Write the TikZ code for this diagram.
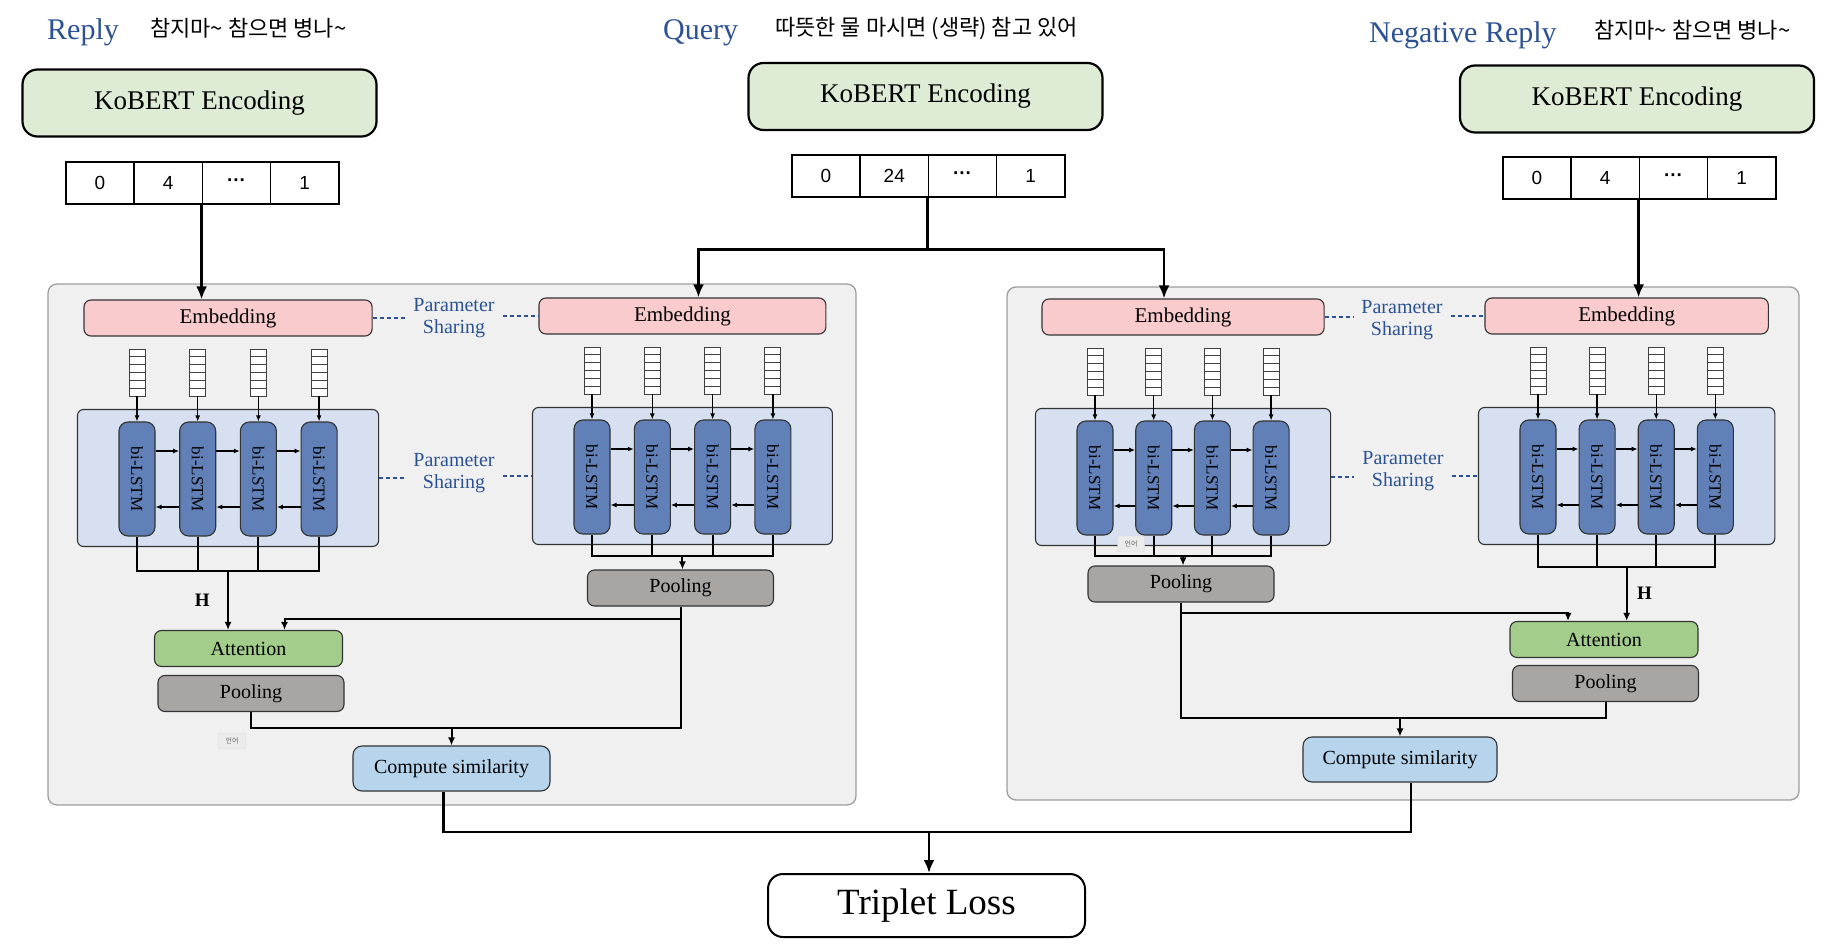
\documentclass[tikz,border=0pt]{standalone}
\usepackage{fontspec}
\usepackage{graphicx}
\setmainfont{Liberation Serif}
\newfontfamily\kofont{Noto Sans CJK KR}
\newfontfamily\digitfont{Liberation Sans}
\usetikzlibrary{arrows.meta}

\definecolor{encgreen}{RGB}{222,236,214}
\definecolor{embpink}{RGB}{249,203,205}
\definecolor{wrapblue}{RGB}{214,224,240}
\definecolor{cellblue}{RGB}{96,128,183}
\definecolor{attgreen}{RGB}{162,205,139}
\definecolor{poolgray}{RGB}{168,165,163}
\definecolor{simblue}{RGB}{182,212,236}
\definecolor{panelgray}{RGB}{240,240,240}
\definecolor{labelblue}{RGB}{44,82,147}

\newcommand{\setfs}[1]{\fontsize{#1}{1.1\dimexpr #1pt\relax}\selectfont}

\tikzset{
  panel/.style={draw=black!38, line width=1.3pt, fill=panelgray, rounded corners=9},
  encbox/.style={draw, line width=2.2pt, rounded corners=15, fill=encgreen, minimum width=354, minimum height=67, font=\setfs{27}},
  tokcell/.style={draw, line width=1.6pt, fill=white, minimum width=68.25, minimum height=42, inner sep=0pt, font=\digitfont\setfs{19}},
  blk/.style={draw=black!80, line width=1.1pt, rounded corners=7, inner sep=0pt},
  embbox/.style={blk, fill=embpink, minimum height=36, font=\setfs{21}},
  wrapbox/.style={blk, fill=wrapblue, minimum height=137, rounded corners=6},
  lstmcell/.style={blk, fill=cellblue, minimum width=36, minimum height=114, rounded corners=9, font=\setfs{17}},
  vecbox/.style={draw=black!75, line width=0.9pt, fill=white, minimum width=16, minimum height=47, inner sep=0pt,
    path picture={\foreach \k in {1,...,5}
      \draw[black!75, line width=0.8pt] ([yshift=-\k*7.83]path picture bounding box.north west) -- ([yshift=-\k*7.83]path picture bounding box.north east);}},
  attbox/.style={blk, fill=attgreen, minimum width=188, minimum height=36, font=\setfs{20}},
  poolbox/.style={blk, fill=poolgray, minimum width=186, minimum height=36, font=\setfs{20}},
  simbox/.style={blk, fill=simblue, minimum width=197, minimum height=45, rounded corners=9, font=\setfs{20}},
  lossbox/.style={draw, line width=2pt, rounded corners=15, fill=white, minimum width=317, minimum height=63, font=\setfs{37}},
  toplabel/.style={text=labelblue, font=\setfs{30}, inner sep=0pt, anchor=base west},
  kotext/.style={font=\kofont\setfs{22}, inner sep=0pt, anchor=base west},
  pslabel/.style={text=labelblue, font=\setfs{20}, align=center, inner xsep=8pt, inner ysep=0pt},
  hlabel/.style={font=\bfseries\setfs{19}},
  tipbox/.style={fill=black!8, draw=black!15, rounded corners=2, text=black!60, font=\kofont\setfs{7}, minimum width=27, minimum height=16, inner sep=1pt},
  mainline/.style={line width=2.6pt},
  mainarrow/.style={line width=2.6pt, -{Latex[length=13pt,width=11pt]}},
  joinline/.style={line width=2pt},
  midarrow/.style={line width=2pt, -{Latex[length=8pt,width=7pt]}},
  thinarrow/.style={line width=1.3pt, -{Latex[length=6pt,width=5pt]}},
  psdash/.style={draw=labelblue, line width=1.6pt, dash pattern=on 4pt off 3pt}
}

\begin{document}
\begin{tikzpicture}[x=1pt, y=-1pt]
  \useasboundingbox[fill=white] (0,0) rectangle (1844,949);

  % panels
  \node[panel, minimum width=808, minimum height=521] (pnl-l) at (452,544.5) {};
  \node[panel, minimum width=792, minimum height=513] (pnl-r) at (1403,543.5) {};

  % titles
  \node[toplabel] (lab-rp) at (47,40) {Reply};
  \node[kotext] (txt-rp) at (150,37) {참지마\textasciitilde{} 참으면 병나\textasciitilde};
  \node[toplabel] (lab-qa) at (663,40) {Query};
  \node[kotext] (txt-qa) at (775,36) {따뜻한 물 마시면 (생략) 참고 있어};
  \node[toplabel] (lab-ng) at (1369,43) {Negative Reply};
  \node[kotext] (txt-ng) at (1594,39) {참지마\textasciitilde{} 참으면 병나\textasciitilde};

  % encoders and token ids
  \node[encbox] (enc-rp) at (199.5,103) {KoBERT Encoding};
  \node[encbox] (enc-qa) at (925.5,96.5) {KoBERT Encoding};
  \node[encbox] (enc-ng) at (1637,99) {KoBERT Encoding};
  \foreach \p/\xt/\yt/\tv in {rp/100/183/4, qa/826/176/24, ng/1537/178/4}{
    \foreach \i/\v in {0/0, 1/\tv, 2/{\bfseries ···}, 3/1}
      \node[tokcell] (\p-t\i) at ({\xt+\i*68.25},\yt) {\v};
  }

  % embedding + bi-LSTM blocks
  \foreach \p/\xa/\dx/\yv/\jd in {rp/137/60.7/349/34, qa/592/60.3/347/21, qb/1095/58.7/348/20, ng/1538/59.1/347/32}{
    \pgfmathsetmacro\ew{3*\dx+106}
    \pgfmathsetmacro\ww{3*\dx+119}
    \node[embbox, minimum width=\ew] (\p-emb) at ({\xa+1.5*\dx},\yv-31) {Embedding};
    \node[wrapbox, minimum width=\ww] (\p-box) at ({\xa+1.5*\dx},\yv+129) {};
    \foreach \i in {0,...,3}{
      \node[vecbox] (\p-v\i) at ({\xa+\i*\dx},\yv+23.5) {};
      \node[lstmcell] (\p-l\i) at ({\xa+\i*\dx},\yv+130) {\rotatebox{-90}{bi-LSTM}};
      \draw[thinarrow] (\p-v\i) -- (\p-l\i);
    }
    \foreach \i/\j in {0/1, 1/2, 2/3}{
      \draw[thinarrow] ([yshift=28]\p-l\i.east) -- ([yshift=28]\p-l\j.west);
      \draw[thinarrow] ([yshift=-28]\p-l\j.west) -- ([yshift=-28]\p-l\i.east);
    }
    \draw[joinline] (\p-l0.south) -- ++(0,\jd) coordinate (\p-j0) -| (\p-l3.south);
    \draw[joinline] (\p-l1.south) -- ++(0,\jd);
    \draw[joinline] (\p-l2.south) -- ++(0,\jd);
    \coordinate (\p-jm) at (\p-box |- \p-j0);
  }

  % parameter sharing
  \node[pslabel] (ps-a) at (454,318) {Parameter\\Sharing};
  \node[pslabel] (ps-b) at (454,473) {Parameter\\Sharing};
  \node[pslabel] (ps-c) at (1402,320) {Parameter\\Sharing};
  \node[pslabel] (ps-d) at (1403,471) {Parameter\\Sharing};
  \draw[psdash] (rp-emb.east) -- (rp-emb.east -| ps-a.west);
  \draw[psdash] (ps-a.east |- qa-emb.west) -- (qa-emb.west);
  \draw[psdash] (rp-box.east) -- (rp-box.east -| ps-b.west);
  \draw[psdash] (ps-b.east |- qa-box.west) -- (qa-box.west);
  \draw[psdash] (qb-emb.east) -- (qb-emb.east -| ps-c.west);
  \draw[psdash] (ps-c.east |- ng-emb.west) -- (ng-emb.west);
  \draw[psdash] (qb-box.east) -- (qb-box.east -| ps-d.west);
  \draw[psdash] (ps-d.east |- ng-box.west) -- (ng-box.west);

  % heads
  \node[attbox] (att-rp) at (248.5,648.5) {Attention};
  \node[poolbox] (pool-rp) at (251,693.5) {Pooling};
  \node[poolbox] (pool-qa) at (680.5,588) {Pooling};
  \node[simbox] (cs-l) at (451.5,768.5) {Compute similarity};
  \node[poolbox] (pool-qb) at (1181,584) {Pooling};
  \node[attbox] (att-ng) at (1604,639.5) {Attention};
  \node[poolbox] (pool-ng) at (1605.5,683.5) {Pooling};
  \node[simbox, minimum width=194] (cs-r) at (1400,759.5) {Compute similarity};
  \node[lossbox] (loss) at (926.5,905.5) {Triplet Loss};

  % inputs
  \draw[mainarrow] (rp-t2.south west) -- (rp-t2.south west |- rp-emb.north);
  \coordinate (qa-split) at ([yshift=-52]qa-t2.south west);
  \draw[mainline] (qa-t2.south west) -- (qa-split);
  \draw[mainarrow] (qa-split) -| ([xshift=16]qa-emb.north);
  \draw[mainarrow] (qa-split) -| ([xshift=-19]qb-emb.north);
  \draw[mainarrow] (ng-t2.south west) -- (ng-t2.south west |- ng-emb.north);

  % left panel
  \draw[midarrow] (rp-jm) -- node[hlabel, left=14] (h-rp) {H} (rp-jm |- att-rp.north);
  \draw[midarrow] (qa-jm) -- (qa-jm |- pool-qa.north);
  \draw[midarrow] (pool-qa.south) -- ++(0,12) -| ([xshift=36]att-rp.north);
  \coordinate (mg-l) at (451.5,728);
  \draw[joinline] (pool-rp.south) |- (mg-l) -| (pool-qa.south);
  \draw[midarrow] (mg-l) -- (cs-l.north);

  % right panel
  \draw[midarrow] (qb-jm) -- (qb-jm |- pool-qb.north);
  \draw[midarrow] (ng-jm) -- node[hlabel, right=6] (h-ng) {H} (ng-jm |- att-ng.north);
  \draw[midarrow] (pool-qb.south) -- ++(0,10) -| ([xshift=-36]att-ng.north);
  \coordinate (mg-r) at (1400,718);
  \draw[joinline] (pool-qb.south) |- (mg-r) -| (pool-ng.south);
  \draw[midarrow] (mg-r) -- (cs-r.north);

  % loss
  \coordinate (mg-f) at (929,832);
  \draw[mainline] ([xshift=-8]cs-l.south) |- (mg-f) -| ([xshift=11]cs-r.south);
  \draw[mainarrow] (mg-f) -- (mg-f |- loss.north);

  \node[tipbox] (tip-a) at (232,741) {언어};
  \node[tipbox] (tip-b) at (1131,544) {언어};
\end{tikzpicture}
\end{document}
